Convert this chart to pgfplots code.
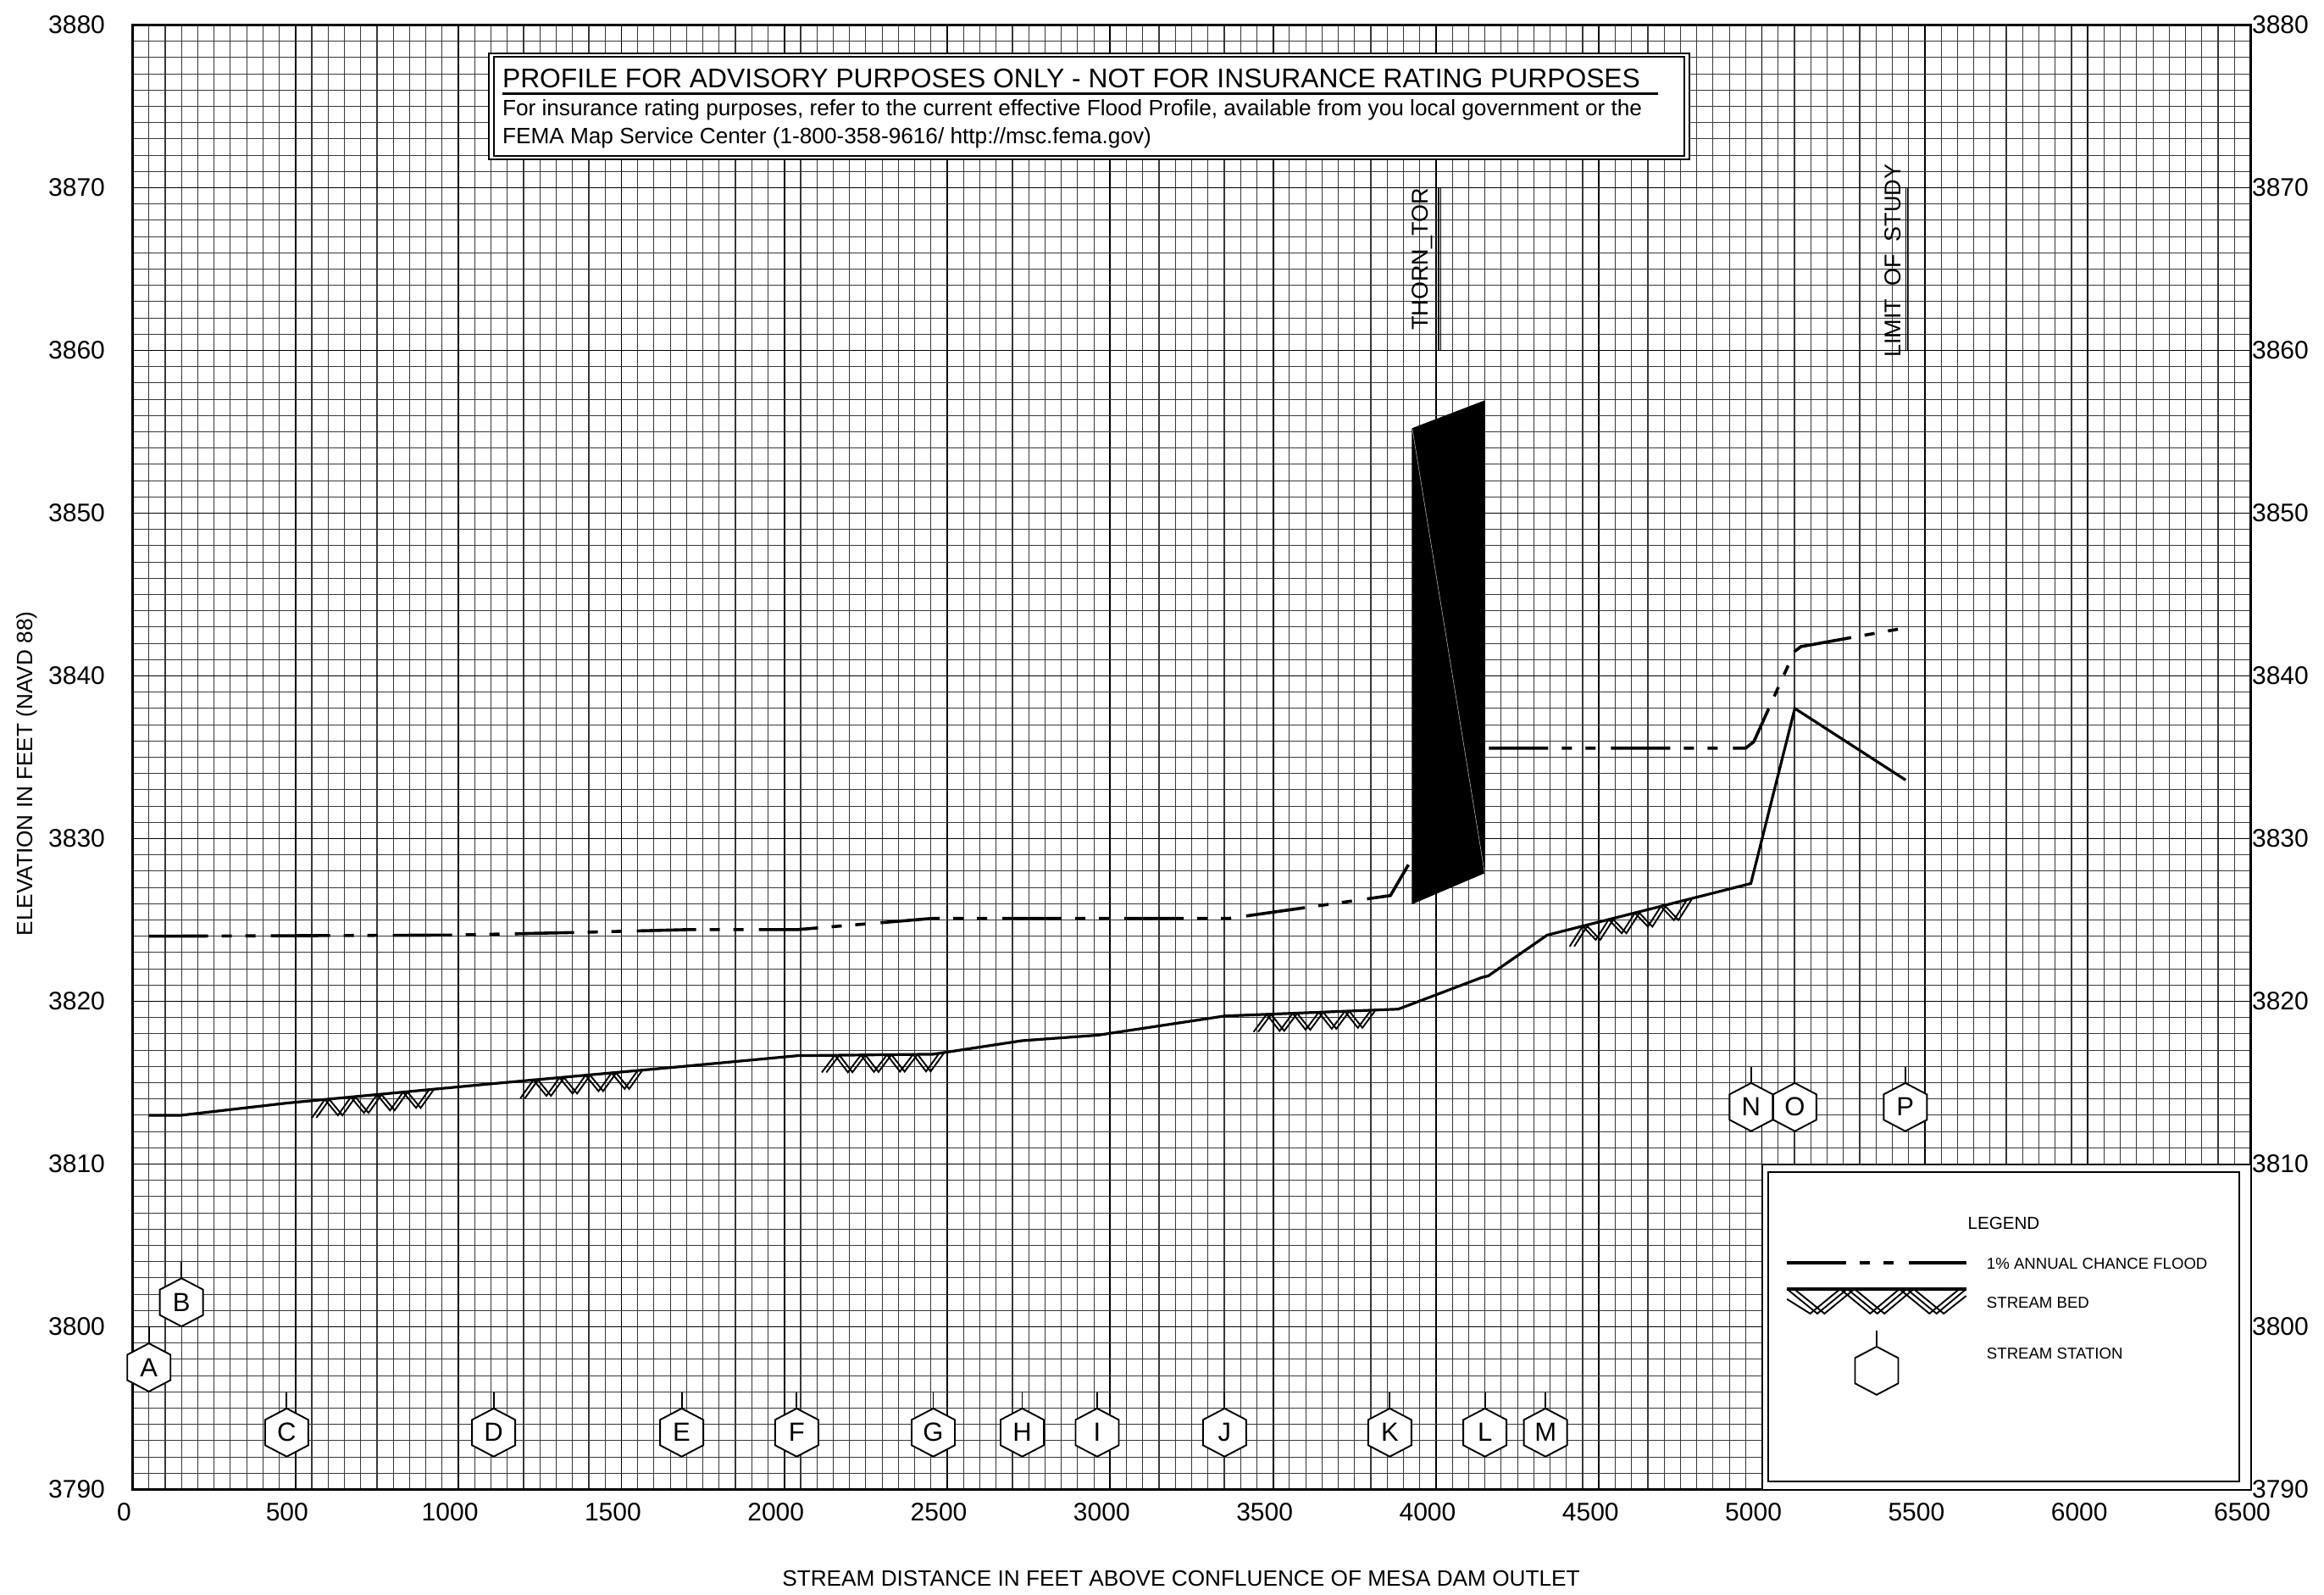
\documentclass[border=0pt]{standalone}
\usepackage{fontspec}
\setmainfont{Liberation Sans}
\usepackage{pgfplots}
\pgfplotsset{compat=1.18}

\pgfkeys{/pgfplots/stlab/.initial={}}
\pgfdeclareplotmark{station}{%
  \pgfpathmoveto{\pgfqpoint{0pt}{14.2pt}}%
  \pgfpathlineto{\pgfqpoint{12.75pt}{7.5pt}}%
  \pgfpathlineto{\pgfqpoint{12.75pt}{-7.5pt}}%
  \pgfpathlineto{\pgfqpoint{0pt}{-14.2pt}}%
  \pgfpathlineto{\pgfqpoint{-12.75pt}{-7.5pt}}%
  \pgfpathlineto{\pgfqpoint{-12.75pt}{7.5pt}}%
  \pgfpathclose
  \pgfusepath{fill,stroke}%
  \pgfpathmoveto{\pgfqpoint{0pt}{14.2pt}}%
  \pgfpathlineto{\pgfqpoint{0pt}{23.8pt}}%
  \pgfusepath{stroke}%
  \pgftext{\fontsize{15.5}{15.5}\selectfont\pgfkeysvalueof{/pgfplots/stlab}}%
}

\pgfplotsset{
  flood/.style={black, line width=1.8pt, dash pattern=on 35pt off 8pt on 6pt off 8pt on 6pt off 9pt},
  bed/.style={black, line width=1.6pt},
  hatch/.style={black, line width=0.95pt},
  stn/.style={only marks, mark=station, mark options={fill=white, draw=black, line width=0.95pt, solid}},
}

\begin{document}
\begin{tikzpicture}
\begin{axis}[
  at={(78.25pt,61.75pt)}, anchor=south west,
  width=1250pt, height=864pt, scale only axis,
  xmin=0, xmax=6500, ymin=3790, ymax=3880,
  xtick={0,500,...,6500}, ytick={3790,3800,...,3880},
  minor x tick num=9, minor y tick num=9,
  grid=both,
  major grid style={black, line width=0.9pt},
  minor grid style={black!78, line width=0.55pt},
  major tick length=0pt, minor tick length=0pt,
  axis line style={black, line width=1.1pt},
  /pgf/number format/assume math mode=true,
  /pgf/number format/1000 sep={},
  ticklabel style={font=\fontsize{15}{15}\selectfont},
  yticklabel style={xshift=-12.75pt},
  xticklabel style={xshift=-5pt, yshift=-4.5pt},
  clip=false,
]
% ---- title box
\draw[fill=white, line width=1pt] (axis cs:1093,3871.74) rectangle (axis cs:4777.5,3878.27);
\draw[line width=1pt] (axis cs:1109,3871.95) rectangle (axis cs:4761.5,3878.06);
\draw[line width=1.6pt] (axis cs:1134,3875.8) -- (axis cs:4680,3875.8);
\node[anchor=base west, inner sep=0pt, font=\fontsize{15.9}{15.9}\selectfont] at (axis cs:1134,3876.17) {PROFILE FOR ADVISORY PURPOSES ONLY - NOT FOR INSURANCE RATING PURPOSES};
\node[anchor=base west, inner sep=0pt, font=\fontsize{13.1}{13.1}\selectfont] at (axis cs:1134,3874.43) {For insurance rating purposes, refer to the current effective Flood Profile, available from you local government or the};
\node[anchor=base west, inner sep=0pt, font=\fontsize{13.1}{13.1}\selectfont] at (axis cs:1134,3872.7) {FEMA Map Service Center (1-800-358-9616/ http://msc.fema.gov)};

% ---- legend box
\fill[white] (axis cs:5000,3790) rectangle (axis cs:6500,3810);
\draw[line width=1pt] (axis cs:5000,3790) rectangle (axis cs:6500,3810);
\draw[line width=1pt] (axis cs:5018,3790.5) rectangle (axis cs:6465,3809.5);
\node[font=\fontsize{10.3}{10.3}\selectfont] at (axis cs:5742,3806.36) {LEGEND};
\addplot[flood] coordinates {(5077,3803.93) (5627,3803.93)};
\node[anchor=west, inner sep=0pt, font=\fontsize{9.3}{9.3}\selectfont] at (axis cs:5689,3803.9) {1\% ANNUAL CHANCE FLOOD};
\addplot[black, line width=1.8pt] coordinates {(5077,3802.32) (5627,3802.32)};
\addplot[hatch] coordinates {(5077,3802.32) (5170,3800.81) (5262,3802.32) (5354,3800.81) (5444,3802.32) (5536,3800.81) (5627,3802.32)};
\addplot[hatch] coordinates {(5099,3802.32) (5192,3800.81) (5284,3802.32) (5376,3800.81) (5466,3802.32) (5558,3800.81) (5627,3801.9)};
\addplot[hatch] coordinates {(5077,3801.7) (5148,3800.81) (5240,3802.32) (5332,3800.81) (5422,3802.32) (5514,3800.81) (5606,3802.32)};
\node[anchor=west, inner sep=0pt, font=\fontsize{9.3}{9.3}\selectfont] at (axis cs:5689,3801.47) {STREAM BED};
\addplot[stn, stlab={}] coordinates {(5352,3797.3)};
\node[anchor=west, inner sep=0pt, font=\fontsize{9.3}{9.3}\selectfont] at (axis cs:5689,3798.35) {STREAM STATION};

% ---- 1% annual chance flood profile
\addplot[flood] coordinates {(50,3824.0) (980,3824.07) (1380,3824.24) (1710,3824.41) (2041,3824.41) (2457,3825.1) (3366,3825.1) (3860,3826.5) (3927,3828.8)};
\addplot[flood] coordinates {(4162,3835.56) (4950,3835.56) (4975,3835.95) (5100,3841.5) (5120,3841.8) (5440,3842.95)};

% ---- stream bed
\addplot[bed] coordinates {(50,3813.0) (150,3813.0) (475,3813.75) (1110,3814.95) (1690,3816.0) (2041,3816.66) (2457,3816.75) (2729,3817.58) (2962,3817.92) (3352,3819.1) (3884,3819.52) (4141,3821.47) (4160,3821.56) (4341,3824.07) (4966,3827.24) (5101,3838.0) (5441,3833.6)};

% stream bed hatching
\addplot[hatch] coordinates {(550,3812.84) (590,3813.97) (630,3812.99) (670,3814.12) (710,3813.14) (750,3814.27) (790,3813.30) (830,3814.42) (870,3813.45) (910,3814.57)};
\addplot[hatch] coordinates {(564,3812.84) (604,3813.97) (644,3812.99) (684,3814.12) (724,3813.14) (764,3814.27) (804,3813.30) (844,3814.42) (884,3813.45) (924,3814.57)};
\addplot[hatch] coordinates {(1190,3814.04) (1230,3815.17) (1270,3814.19) (1310,3815.31) (1350,3814.33) (1390,3815.46) (1430,3814.48) (1470,3815.60) (1510,3814.62) (1550,3815.75)};
\addplot[hatch] coordinates {(1204,3814.04) (1244,3815.17) (1284,3814.19) (1324,3815.31) (1364,3814.33) (1404,3815.46) (1444,3814.48) (1484,3815.60) (1524,3814.62) (1564,3815.75)};
\addplot[hatch] coordinates {(2115,3815.63) (2155,3816.69) (2195,3815.64) (2235,3816.70) (2275,3815.66) (2315,3816.72) (2355,3815.68) (2395,3816.74) (2435,3815.69) (2475,3816.80)};
\addplot[hatch] coordinates {(2129,3815.63) (2169,3816.69) (2209,3815.64) (2249,3816.70) (2289,3815.66) (2329,3816.72) (2369,3815.68) (2409,3816.74) (2449,3815.69) (2489,3816.80)};
\addplot[hatch] coordinates {(3440,3818.12) (3480,3819.20) (3520,3818.18) (3560,3819.26) (3600,3818.25) (3640,3819.33) (3680,3818.31) (3720,3819.39) (3760,3818.37) (3800,3819.45)};
\addplot[hatch] coordinates {(3454,3818.12) (3494,3819.20) (3534,3818.18) (3574,3819.26) (3614,3818.25) (3654,3819.33) (3694,3818.31) (3734,3819.39) (3774,3818.37) (3814,3819.45)};
\addplot[hatch] coordinates {(4410,3823.37) (4450,3824.62) (4490,3823.78) (4530,3825.03) (4570,3824.18) (4610,3825.43) (4650,3824.59) (4690,3825.84) (4730,3824.99) (4770,3826.25)};
\addplot[hatch] coordinates {(4424,3823.37) (4464,3824.62) (4504,3823.78) (4544,3825.03) (4584,3824.18) (4624,3825.43) (4664,3824.59) (4704,3825.84) (4744,3824.99) (4784,3826.25)};

% ---- bridge
\addplot[fill=black, draw=black, line width=0.5pt] coordinates {(3927,3855.2) (4149,3856.9) (4149,3827.9) (3927,3826.0)} -- cycle;
\addplot[gray!60, line width=0.3pt] coordinates {(3927,3855.2) (4149,3827.9)};
\node[rotate=90, font=\fontsize{13.5}{13.5}\selectfont] at (axis cs:3958,3865.6) {THORN\_TOR};
\draw[line width=0.6pt] (axis cs:4008,3860) -- (axis cs:4008,3870);
\draw[line width=0.6pt] (axis cs:4014,3860) -- (axis cs:4014,3870);
\node[rotate=90, font=\fontsize{13.5}{13.5}\selectfont] at (axis cs:5403,3865.5) {LIMIT\ \ OF\ \ STUDY};
\draw[line width=0.6pt] (axis cs:5442,3860) -- (axis cs:5442,3870);
\draw[line width=0.6pt] (axis cs:5448,3860) -- (axis cs:5448,3870);

% ---- stream stations
\addplot[stn, stlab=A] coordinates {(50,3797.5)};
\addplot[stn, stlab=B] coordinates {(150,3801.5)};
\addplot[stn, stlab=C] coordinates {(473,3793.5)};
\addplot[stn, stlab=D] coordinates {(1108,3793.5)};
\addplot[stn, stlab=E] coordinates {(1685,3793.5)};
\addplot[stn, stlab=F] coordinates {(2038,3793.5)};
\addplot[stn, stlab=G] coordinates {(2457,3793.5)};
\addplot[stn, stlab=H] coordinates {(2730,3793.5)};
\addplot[stn, stlab=I] coordinates {(2960,3793.5)};
\addplot[stn, stlab=J] coordinates {(3351,3793.5)};
\addplot[stn, stlab=K] coordinates {(3858,3793.5)};
\addplot[stn, stlab=L] coordinates {(4150,3793.5)};
\addplot[stn, stlab=M] coordinates {(4336,3793.5)};
\addplot[stn, stlab=N] coordinates {(4967,3813.5)};
\addplot[stn, stlab=O] coordinates {(5101,3813.5)};
\addplot[stn, stlab=P] coordinates {(5440,3813.5)};
\end{axis}

\begin{axis}[
  at={(78.25pt,61.75pt)}, anchor=south west,
  width=1250pt, height=864pt, scale only axis,
  xmin=0, xmax=6500, ymin=3790, ymax=3880,
  hide x axis,
  axis y line*=right,
  y axis line style={draw=none},
  ytick={3790,3800,...,3880},
  major tick length=0pt,
  /pgf/number format/assume math mode=true,
  /pgf/number format/1000 sep={},
  ticklabel style={font=\fontsize{15}{15}\selectfont},
  yticklabel style={xshift=-2.75pt},
]
\addplot[draw=none] coordinates {(0,3790)};
\end{axis}

\node[font=\fontsize{13.1}{13.1}\selectfont] at (697pt,9.2pt) {STREAM DISTANCE IN FEET ABOVE CONFLUENCE OF MESA DAM OUTLET};
\node[rotate=90, font=\fontsize{13.1}{13.1}\selectfont] at (15.75pt,484pt) {ELEVATION IN FEET (NAVD 88)};

\pgfresetboundingbox
\useasboundingbox (0pt,0pt) rectangle (1371.5pt,940.5pt);
\end{tikzpicture}
\end{document}
